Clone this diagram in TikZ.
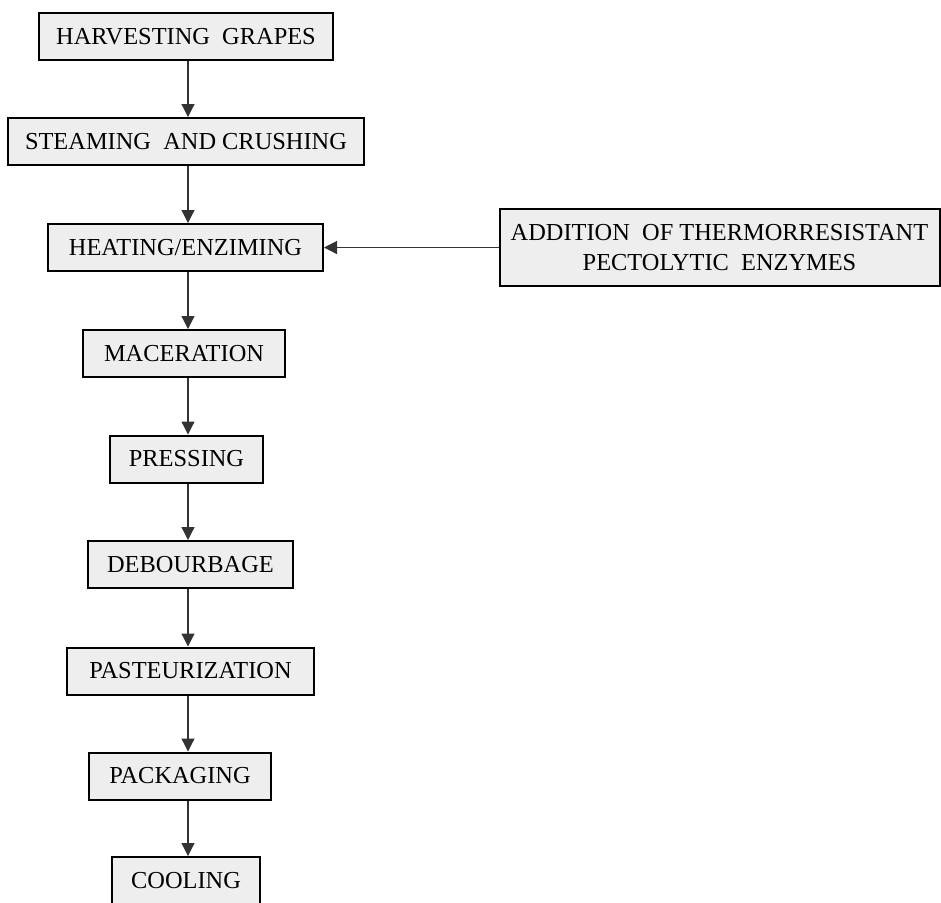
\documentclass[tikz,border=0pt]{standalone}
\usepackage{fontspec}
\setmainfont{Liberation Serif}
\usepackage{tikz}
\usetikzlibrary{positioning,arrows.meta,calc}
\definecolor{boxgray}{RGB}{238,238,238}

\begin{document}
\begin{tikzpicture}[
  x=0.5pt, y=-0.5pt,
  stepbox/.style={
    draw=black, fill=boxgray, line width=1pt,
    inner sep=0pt, align=center, minimum height=23.5pt,
    font=\fontsize{12.2}{15}\selectfont
  },
  arrow/.style={-{Triangle[length=6.5pt,width=6.5pt]}, line width=0.6pt, black!80}
]
\useasboundingbox (0,0) rectangle (941,902);
% main line of the process
\node[stepbox, minimum width=147pt] (harvest) at (186,36.5) {HARVESTING~ GRAPES};
\node[stepbox, minimum width=178pt] (steam) at (186,141.5) {STEAMING~ AND CRUSHING};
\node[stepbox, minimum width=137.5pt] (heat) at (185.5,247.5) {HEATING/ENZIMING};
\node[stepbox, minimum width=101pt] (macer) at (184,353.5) {MACERATION};
\node[stepbox, minimum width=76.5pt] (press) at (186.5,459) {PRESSING};
\node[stepbox, minimum width=102.5pt] (debourb) at (190.5,564.5) {DEBOURBAGE};
\node[stepbox, minimum width=123.5pt] (pasteur) at (190.5,671) {PASTEURIZATION};
\node[stepbox, minimum width=91pt] (pack) at (180,776) {PACKAGING};
\node[stepbox, minimum width=74pt] (cool) at (186,880.5) {COOLING};
% side input
\node[stepbox, minimum width=220pt, minimum height=38.5pt] (enzymes) at (719.5,247.5)
  {ADDITION~ OF THERMORRESISTANT\\PECTOLYTIC~ ENZYMES};

% arrows all run down one column
\coordinate (axis) at (188,0);
\draw[arrow] (axis |- harvest.south) -- (axis |- steam.north);
\draw[arrow] (axis |- steam.south) -- (axis |- heat.north);
\draw[arrow] (axis |- heat.south) -- (axis |- macer.north);
\draw[arrow] (axis |- macer.south) -- (axis |- press.north);
\draw[arrow] (axis |- press.south) -- (axis |- debourb.north);
\draw[arrow] (axis |- debourb.south) -- (axis |- pasteur.north);
\draw[arrow] (axis |- pasteur.south) -- (axis |- pack.north);
\draw[arrow] (axis |- pack.south) -- (axis |- cool.north);
\draw[arrow] (enzymes.west) -- (heat.east);
\end{tikzpicture}
\end{document}
